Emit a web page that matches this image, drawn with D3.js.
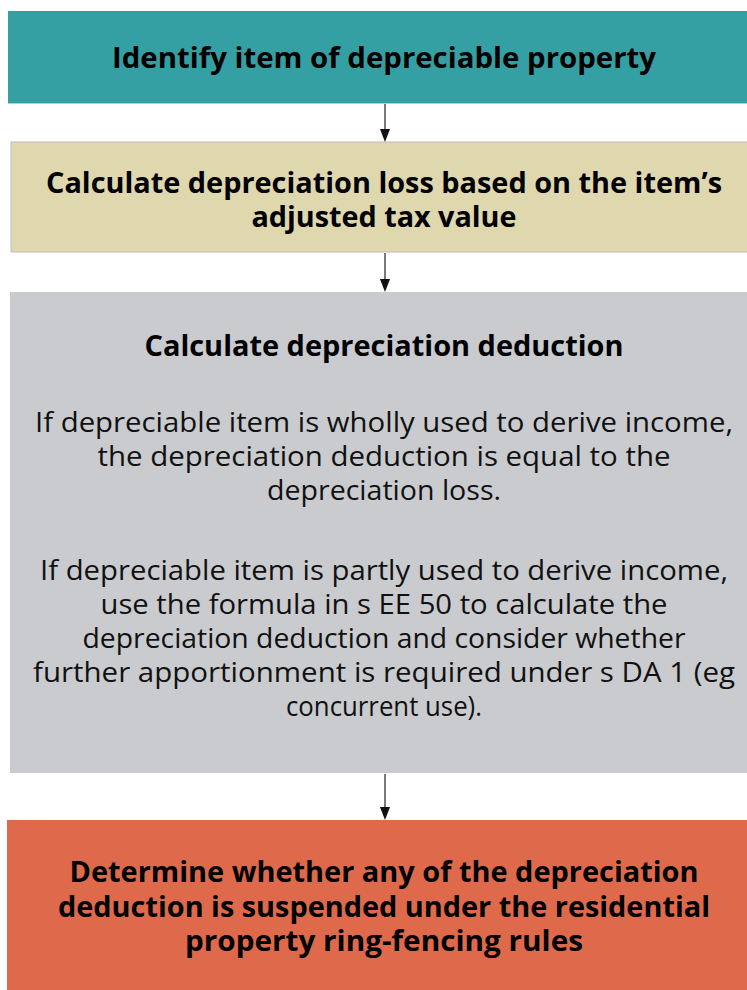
<!DOCTYPE html>
<html>
<head>
<meta charset="utf-8">
<script src="https://cdn.jsdelivr.net/npm/d3@7"></script>
<style>
  html, body { margin: 0; padding: 0; background: #ffffff; }
  svg { display: block; }
</style>
</head>
<body>
<div id="chart"></div>
<script>
// ---- data ----
const stepIds = ["identify", "loss", "deduction", "ringfence"];
const stepHeadings = [
  ["Identify item of depreciable property"],
  ["Calculate depreciation loss based on the item\u2019s", "adjusted tax value"],
  ["Calculate depreciation deduction"],
  ["Determine whether any of the depreciation", "deduction is suspended under the residential", "property ring-fencing rules"]
];
const bodyParagraph1 = [
  "If depreciable item is wholly used to derive income,",
  "the depreciation deduction is equal to the",
  "depreciation loss."
];
const bodyParagraph2 = [
  "If depreciable item is partly used to derive income,",
  "use the formula in s EE 50 to calculate the",
  "depreciation deduction and consider whether",
  "further apportionment is required under s DA 1 (eg",
  "concurrent use)."
];
const stepColors = ["#34a0a4", "#dfd7ae", "#c9cbcf", "#df6a4b"];

// ---- layout (presentation only) ----
const W = 747, H = 990;
const boxTop    = { identify: 11,  loss: 142, deduction: 292, ringfence: 820 };
const boxBottom = { identify: 103, loss: 252, deduction: 773, ringfence: 1000 };
const boxLeft   = { identify: 8,   loss: 11,  deduction: 10,  ringfence: 7 };
const headBase  = { identify: 68,  loss: 193, deduction: 356, ringfence: 882 };
const headLineH = { identify: 34, loss: 34, deduction: 34, ringfence: 34.5 };
const paraBase = [432, 580];
const bodyLineH = 34;
const cx = 384;

// measured text widths in the reference (for the condensed face)
const headWidths = {
  identify: [544],
  loss: [676, 265],
  deduction: [479],
  ringfence: [629, 652, 398]
};
const paraWidths = [[698, 573, 234], [688, 567, 603, 702, 196]];

const svg = d3.select("#chart").append("svg")
  .attr("width", W).attr("height", H);

const y = d3.scaleLinear().domain([0, H]).range([0, H]);

const steps = stepIds.map((id, i) => ({
  id, heading: stepHeadings[i], color: stepColors[i]
}));

// boxes
const g = svg.selectAll("g.step").data(steps).join("g").attr("class", "step");

g.append("rect")
  .attr("x", d => boxLeft[d.id])
  .attr("y", d => y(boxTop[d.id]))
  .attr("width", d => W + 10 - boxLeft[d.id])
  .attr("height", d => y(boxBottom[d.id]) - y(boxTop[d.id]))
  .attr("fill", d => d.color)
  .attr("stroke", d => d.id === "loss" ? "#bdbdbd" : "none")
  .attr("stroke-width", 1);

// subtle bottom border on first box
svg.append("line")
  .attr("x1", boxLeft.identify).attr("x2", W)
  .attr("y1", y(boxBottom.identify) + 0.5).attr("y2", y(boxBottom.identify) + 0.5)
  .attr("stroke", "#c8c8c8").attr("stroke-width", 1);

const font = "'Open Sans', 'Noto Sans', 'DejaVu Sans', sans-serif";

// headings
g.each(function(d) {
  const sel = d3.select(this);
  d.heading.forEach((t, k) => {
    sel.append("text")
      .attr("x", cx)
      .attr("y", y(headBase[d.id] + k * headLineH[d.id]))
      .attr("text-anchor", "middle")
      .attr("font-family", font)
      .attr("font-weight", 700)
      .attr("font-size", 28)
      .attr("fill", "#000")
      .attr("textLength", headWidths[d.id][k])
      .attr("lengthAdjust", "spacingAndGlyphs")
      .text(t);
  });
});

// body paragraphs in the deduction box
const bodyG = svg.append("g").attr("class", "body");
[bodyParagraph1, bodyParagraph2].forEach((para, p) => {
  bodyG.selectAll(`text.p${p}`).data(para).join("text")
    .attr("class", `p${p}`)
    .attr("x", cx)
    .attr("y", (t, k) => y(paraBase[p] + k * bodyLineH))
    .attr("text-anchor", "middle")
    .attr("font-family", font)
    .attr("font-weight", 400)
    .attr("font-size", 26.5)
    .attr("fill", "#111")
    .attr("textLength", (t, k) => paraWidths[p][k])
    .attr("lengthAdjust", "spacingAndGlyphs")
    .text(t => t);
});

// arrows
const links = d3.pairs(steps).map(([a, b]) => ({ from: a.id, to: b.id }));
svg.selectAll("path.link").data(links).join("path")
  .attr("class", "link")
  .attr("d", d => `M${cx + 1},${y(boxBottom[d.from]) + 1} L${cx + 1},${y(boxTop[d.to]) - 12}`)
  .attr("stroke", "#333")
  .attr("stroke-width", 1.3)
  .attr("fill", "none");

svg.selectAll("path.head").data(links).join("path")
  .attr("class", "head")
  .attr("d", d => {
    const ty = y(boxTop[d.to]);
    return `M${cx + 1 - 5},${ty - 13} L${cx + 1 + 5},${ty - 13} L${cx + 1},${ty} Z`;
  })
  .attr("fill", "#111");
</script>
</body>
</html>
